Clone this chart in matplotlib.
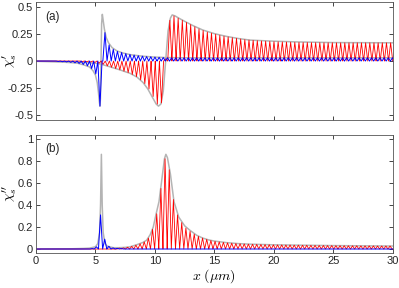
import numpy as np
import matplotlib
matplotlib.use("Agg")
import matplotlib.pyplot as plt

plt.rcParams['font.family'] = ['Liberation Sans', 'DejaVu Sans']
plt.rcParams['mathtext.fontset'] = 'cm'

# spacing of the interference fringes (um)
period = 0.35

# ---- panel (a): real part ----
# gray envelope of the 5.5 um resonance
gray_a_x = [0, 1, 2, 3, 3.5, 4.0, 4.5, 4.8, 5.0, 5.15, 5.25, 5.33, 5.38, 5.42, 5.47, 5.52,
            5.58, 5.65, 5.75, 5.9, 6.1, 6.4, 6.8, 7.3, 8.0, 9.0, 10.0, 11.0, 13.0, 20.0, 30.0]
gray_a_y = [-0.002, -0.004, -0.008, -0.015, -0.02, -0.035, -0.055, -0.09, -0.13, -0.2, -0.29,
            -0.38, -0.42, -0.35, 0.0, 0.35, 0.435, 0.38, 0.3, 0.22, 0.17, 0.125, 0.095, 0.075,
            0.058, 0.045, 0.037, 0.032, 0.03, 0.03, 0.03]
# gray envelope of the 11 um resonance
gray_b_x = [0, 2, 4, 5, 5.5, 6.2, 7.0, 7.9, 8.5, 9.0, 9.4, 9.8, 10.1, 10.3, 10.5, 10.7, 10.9,
            11.1, 11.3, 11.45, 11.7, 12.0, 12.5, 13.2, 14.0, 15.0, 16.0, 17.0, 18.0, 20.0,
            22.0, 25.0, 30.0]
gray_b_y = [-0.002, -0.005, -0.012, -0.02, -0.03, -0.053, -0.08, -0.114, -0.15, -0.2, -0.26,
            -0.34, -0.4, -0.42, -0.4, -0.28, 0.0, 0.28, 0.4, 0.43, 0.42, 0.4, 0.37, 0.33, 0.29,
            0.255, 0.23, 0.21, 0.195, 0.185, 0.178, 0.172, 0.17]

# red fringe tips, first tip at 3.9 um
red_a_start = 3.9
red_a_tips = [-0.004, -0.006, -0.009, -0.013, -0.02,
              -0.03, -0.045, -0.058, -0.07, -0.082,
              -0.095, -0.108, -0.125, -0.145, -0.175,
              -0.21, -0.26, -0.33, -0.40, -0.39,
              0.02, 0.38, 0.42, 0.40, 0.38,
              0.36, 0.34, 0.32, 0.30, 0.285,
              0.27, 0.26, 0.25, 0.24, 0.232,
              0.225, 0.218, 0.212, 0.206, 0.2,
              0.196, 0.193, 0.19, 0.187, 0.185,
              0.183, 0.181, 0.18, 0.178, 0.177,
              0.176, 0.175, 0.174, 0.173, 0.173,
              0.172, 0.172, 0.172, 0.171, 0.171,
              0.171, 0.17, 0.17, 0.17, 0.17,
              0.17, 0.17, 0.17, 0.17, 0.17,
              0.17, 0.17, 0.17, 0.17, 0.17]

# blue fringe tips, before and after the 5.5 um resonance
blue_a1_start = 1.88
blue_a1_tips = [-0.004, -0.006, -0.008, -0.012, -0.016, -0.022, -0.032, -0.045, -0.07, -0.12,
                -0.42]
blue_a2_start = 5.8
blue_a2_tips = [0.265, 0.15, 0.11, 0.09, 0.08, 0.07, 0.062, 0.056, 0.05, 0.046,
                0.042, 0.04, 0.037, 0.035, 0.033,
                0.03, 0.03, 0.03, 0.03, 0.03, 0.03, 0.03, 0.03, 0.03, 0.03, 0.03,
                0.03, 0.03, 0.03, 0.03, 0.03, 0.03, 0.03, 0.03, 0.03, 0.03, 0.03,
                0.03, 0.03, 0.03, 0.03, 0.03, 0.03, 0.03, 0.03, 0.03, 0.03, 0.03,
                0.03, 0.03, 0.03, 0.03, 0.03, 0.03, 0.03, 0.03, 0.03, 0.03, 0.03,
                0.03, 0.03, 0.03, 0.03, 0.03, 0.03, 0.03, 0.03, 0.03, 0.03, 0.03]

# ---- panel (b): imaginary part ----
gray_c_x = [0, 3, 4, 4.5, 5.0, 5.2, 5.35, 5.43, 5.5, 5.57, 5.65, 5.8, 6.0, 6.5, 7.0, 7.5, 7.9,
            8.5, 9.0, 9.3, 9.6, 9.86, 10.1, 10.34, 10.6, 10.8, 10.92, 11.05, 11.3, 11.6, 12.0,
            12.5, 12.94, 13.5, 14.0, 14.5, 15.0, 16.0, 17.0, 18.0, 20.0, 25.0, 30.0]
gray_c_y = [0.0, 0.002, 0.005, 0.008, 0.02, 0.05, 0.15, 0.4, 0.86, 0.4, 0.15, 0.05, 0.025,
            0.012, 0.012, 0.015, 0.02, 0.04, 0.06, 0.08, 0.13, 0.2, 0.32, 0.43, 0.65, 0.82,
            0.86, 0.83, 0.68, 0.43, 0.29, 0.21, 0.17, 0.125, 0.1, 0.083, 0.072, 0.058, 0.049,
            0.044, 0.038, 0.031, 0.027]

red_c_start = 7.0
red_c_tips = [0.008, 0.01, 0.016, 0.024, 0.035, 0.048, 0.065, 0.1, 0.18, 0.32,
              0.55, 0.82, 0.72, 0.45, 0.31, 0.24, 0.19, 0.16, 0.135, 0.115,
              0.1, 0.088, 0.078, 0.07, 0.065, 0.06, 0.056, 0.053, 0.05, 0.048,
              0.046, 0.044, 0.043, 0.042, 0.041, 0.04, 0.039, 0.038, 0.037, 0.037,
              0.036, 0.036, 0.035, 0.035, 0.034, 0.034, 0.033, 0.033, 0.032, 0.032,
              0.031, 0.031, 0.03, 0.03, 0.03, 0.029, 0.029, 0.029, 0.028, 0.028,
              0.028, 0.028, 0.027, 0.027, 0.027, 0.027]

blue_c_start = 4.73
blue_c_tips = [0.004, 0.02, 0.31, 0.09, 0.025, 0.01, 0.006, 0.004]


def fringes(segments, xmax=30.0):
    # line from zero up to each tip and back to zero
    xs, ys = [0.0], [0.0]
    for start, tips in segments:
        tx = start + period * np.arange(len(tips))
        for a, b in zip(tx, tips):
            xs += [a - period / 2, a, a + period / 2]
            ys += [0.0, b, 0.0]
    xs.append(xmax)
    ys.append(0.0)
    return xs, ys


gray = '#b4b4b4'
dark = '#262626'

fig = plt.figure(figsize=(3.99, 2.88), dpi=100)
ax1 = fig.add_axes([0.090, 0.583, 0.895, 0.410])
ax2 = fig.add_axes([0.090, 0.122, 0.895, 0.409])

# (a)
ax1.plot(gray_a_x, gray_a_y, color=gray, lw=1.1)
ax1.plot(gray_b_x, gray_b_y, color=gray, lw=1.1)
rx, ry = fringes([(red_a_start, red_a_tips)])
ax1.plot(rx, ry, color='r', lw=0.6)
bx, by = fringes([(blue_a1_start, blue_a1_tips), (blue_a2_start, blue_a2_tips)])
ax1.plot(bx, by, color='b', lw=0.7)
ax1.set_ylim(-0.55, 0.55)
ax1.set_yticks([-0.5, -0.25, 0, 0.25, 0.5])
ax1.set_yticklabels(['-0.5', '-0.25', '0', '0.25', '0.5'])
ax1.set_xticklabels([])
ax1.set_ylabel(r"$\chi^{\prime}_{s}$", fontsize=10, va='center')
ax1.yaxis.set_label_coords(-0.074, 0.5)
ax1.text(0.025, 0.92, '(a)', transform=ax1.transAxes, fontsize=8.5, va='top', color=dark)

# (b)
ax2.plot(gray_c_x, gray_c_y, color=gray, lw=1.1)
rx, ry = fringes([(red_c_start, red_c_tips)])
ax2.plot(rx, ry, color='r', lw=0.6)
bx, by = fringes([(blue_c_start, blue_c_tips)])
ax2.plot(bx, by, color='b', lw=0.7)
ax2.set_ylim(-0.035, 1.035)
ax2.set_yticks([0, 0.2, 0.4, 0.6, 0.8, 1])
ax2.set_yticklabels(['0', '0.2', '0.4', '0.6', '0.8', '1'])
ax2.set_ylabel(r"$\chi^{\prime\prime}_{s}$", fontsize=10, va='center')
ax2.yaxis.set_label_coords(-0.074, 0.5)
ax2.set_xlabel(r"$x\ (\mu m)$", fontsize=10, labelpad=1)
ax2.text(0.025, 0.93, '(b)', transform=ax2.transAxes, fontsize=8.5, va='top', color=dark)

for ax in (ax1, ax2):
    ax.set_xlim(0, 30)
    ax.set_xticks([0, 5, 10, 15, 20, 25, 30])
    ax.tick_params(direction='in', length=3, width=0.6, top=True, right=True,
                   labelsize=8, colors=dark, pad=2)
    for s in ax.spines.values():
        s.set_color('#555555')
        s.set_linewidth(0.6)
ax2.set_xticklabels(['0', '5', '10', '15', '20', '25', '30'])

plt.savefig('out.png', dpi=100)
